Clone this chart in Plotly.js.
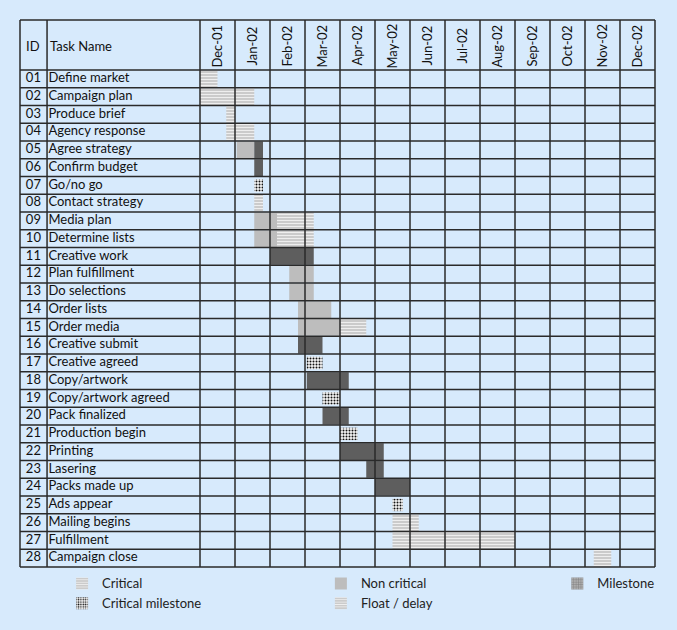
<!DOCTYPE html>
<html>
<head>
<meta charset="utf-8">
<script src="https://cdn.plot.ly/plotly-3.0.1.min.js"></script>
<style>
  body { margin: 0; background: #d7eafc; }
  #chart { width: 677px; height: 630px; }
</style>
</head>
<body>
<div id="chart"></div>
<script>
// task table
const ids = ['01','02','03','04','05','06','07','08','09','10','11','12','13','14',
             '15','16','17','18','19','20','21','22','23','24','25','26','27','28'];
const tasks = ['Define market','Campaign plan','Produce brief','Agency response','Agree strategy',
  'Confirm budget','Go/no go','Contact strategy','Media plan','Determine lists','Creative work',
  'Plan fulfillment','Do selections','Order lists','Order media','Creative submit','Creative agreed',
  'Copy/artwork','Copy/artwork agreed','Pack finalized','Production begin','Printing','Lasering',
  'Packs made up','Ads appear','Mailing begins','Fulfillment','Campaign close'];
const months = ['Dec-01','Jan-02','Feb-02','Mar-02','Apr-02','May-02','Jun-02',
                'Jul-02','Aug-02','Sep-02','Oct-02','Nov-02','Dec-02'];

// bars: row number, start and end in months from start of Dec-01
const critRow   = [1, 2, 3, 4, 8, 26, 27, 28];
const critStart = [0, 0, 0.75, 0.75, 1.55, 5.5, 5.5, 11.25];
const critEnd   = [0.5, 1.55, 1.0, 1.55, 1.8, 6.25, 9.0, 11.75];

const nonRow   = [5, 9, 10, 12, 13, 14, 15];
const nonStart = [1.05, 1.55, 1.55, 2.55, 2.55, 2.8, 2.8];
const nonEnd   = [1.55, 2.2, 2.2, 3.25, 3.25, 3.75, 4.0];

const floatRow   = [9, 10, 15];
const floatStart = [2.2, 2.2, 4.0];
const floatEnd   = [3.25, 3.25, 4.75];

const darkRow   = [5, 6, 11, 16, 18, 20, 22, 23, 24];
const darkStart = [1.55, 1.55, 2.0, 2.8, 3.05, 3.5, 4.0, 4.75, 5.0];
const darkEnd   = [1.8, 1.8, 3.25, 3.5, 4.25, 4.25, 5.25, 5.25, 6.0];

const cmRow   = [7, 17, 19, 21, 25];
const cmStart = [1.55, 3.05, 3.5, 4.0, 5.5];
const cmEnd   = [1.8, 3.5, 4.0, 4.5, 5.8];

const bg = '#d7eafc';
const lineCol = '#2a2a2a';
const idX = -4.76, nameX = -4.33, sepX = -4.37, leftX = -5.143;
const headTop = -2.317, headMid = -0.85;

function bars(name, rows, start, end, marker, extra) {
  return Object.assign({
    type: 'bar', orientation: 'h', name: name,
    y: rows, base: start, x: end.map((e, i) => e - start[i]),
    width: 0.94, marker: marker, hoverinfo: 'skip'
  }, extra || {});
}

const stripe = { color: '#d2d2d2', line: { width: 0 },
  pattern: { shape: '-', bgcolor: '#cbcbcb', fgcolor: '#eeeeee', size: 3, solidity: 0.35 } };

const traces = [
  bars('Critical', critRow, critStart, critEnd, stripe, { legend: 'legend' }),
  bars('Non critical', nonRow, nonStart, nonEnd,
       { color: '#bdbdbd', line: { width: 0 } }, { legend: 'legend2' }),
  bars('Milestone', [null], [null], [null],
       { color: '#9a9a9a', line: { width: 0 },
         pattern: { shape: '+', bgcolor: '#adadad', fgcolor: '#7a7a7a', size: 3, solidity: 0.3 } },
       { legend: 'legend3' }),
  bars('Critical milestone', cmRow, cmStart, cmEnd,
       { color: '#ffffff', line: { width: 0 },
         pattern: { shape: '.', bgcolor: '#f6f6f6', fgcolor: '#111111', size: 3, solidity: 0.35 } },
       { width: 0.7, legend: 'legend' }),
  bars('Float / delay', floatRow, floatStart, floatEnd, stripe, { legend: 'legend2' }),
  bars('Critical path', darkRow, darkStart, darkEnd,
       { color: '#5e5e5e', line: { width: 0 } }, { showlegend: false }),
  {
    type: 'scatter', mode: 'text', showlegend: false, hoverinfo: 'skip', cliponaxis: false,
    x: ids.map(() => idX), y: ids.map((d, i) => i + 1), text: ids,
    textposition: 'middle center', textfont: { size: 13, color: '#111' }
  },
  {
    type: 'scatter', mode: 'text', showlegend: false, hoverinfo: 'skip', cliponaxis: false,
    x: tasks.map(() => nameX), y: tasks.map((d, i) => i + 1), text: tasks,
    textposition: 'middle right', textfont: { size: 13, color: '#111' }
  }
];

// table rules
const shapes = [];
const vlines = [leftX, sepX].concat(months.map((m, i) => i), [months.length]);
vlines.forEach(v => shapes.push({ type: 'line', layer: 'above', xref: 'x', yref: 'y',
  x0: v, x1: v, y0: headTop, y1: tasks.length + 0.5, line: { color: lineCol, width: 1.5 } }));
const hlines = [headTop].concat(tasks.map((t, i) => i + 0.5), [tasks.length + 0.5]);
hlines.forEach(h => shapes.push({ type: 'line', layer: 'above', xref: 'x', yref: 'y',
  x0: leftX, x1: months.length, y0: h, y1: h, line: { color: lineCol, width: 1.5 } }));

const annotations = months.map((m, i) => ({
  x: i + 0.5, y: headMid, xref: 'x', yref: 'y', text: m, showarrow: false,
  textangle: -90, font: { size: 13, color: '#111' }
}));
annotations.push({ x: idX, y: headMid, xref: 'x', yref: 'y', text: 'ID', showarrow: false,
  font: { size: 13, color: '#111' } });
annotations.push({ x: nameX, y: headMid, xref: 'x', yref: 'y', text: 'Task Name', showarrow: false,
  xanchor: 'left', font: { size: 13, color: '#111' } });

const legendBase = { orientation: 'v', bgcolor: 'rgba(0,0,0,0)', yanchor: 'top', y: 0.001,
  xanchor: 'left', font: { size: 13, color: '#222' }, tracegroupgap: 0, itemwidth: 30 };

const layout = {
  width: 677, height: 630,
  margin: { l: 18, r: 20, t: 18, b: 61, autoexpand: false },
  paper_bgcolor: bg, plot_bgcolor: bg,
  font: { family: 'Lato, "Open Sans", sans-serif', color: '#111' },
  showlegend: true,
  barmode: 'overlay',
  xaxis: { range: [-5.2, 13.057], showgrid: false, zeroline: false, showticklabels: false, ticks: '' },
  yaxis: { range: [28.61, -2.43], showgrid: false, zeroline: false, showticklabels: false, ticks: '' },
  shapes: shapes,
  annotations: annotations,
  legend: Object.assign({}, legendBase, { x: 0.069 }),
  legend2: Object.assign({}, legendBase, { x: 0.474 }),
  legend3: Object.assign({}, legendBase, { x: 0.844 })
};

Plotly.newPlot('chart', traces, layout, { displayModeBar: false });
</script>
</body>
</html>
